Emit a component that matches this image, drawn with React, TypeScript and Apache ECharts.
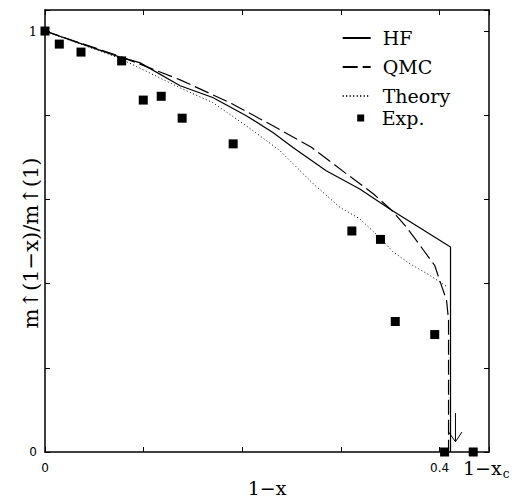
import React, { useEffect, useRef } from 'react';
import * as echarts from 'echarts';

const SERIF = '"DejaVu Serif", "Liberation Serif", serif';
const SANS = '"DejaVu Sans", "Liberation Sans", sans-serif';

// x = 1 - x, y = m↑(1-x)/m↑(1)
const hfData: number[][] = [
  [0, 1], [0.029, 0.976], [0.076, 0.938], [0.096, 0.925], [0.137, 0.87],
  [0.17, 0.842], [0.204, 0.799], [0.231, 0.759], [0.251, 0.724], [0.285, 0.668],
  [0.319, 0.625], [0.351, 0.575], [0.411, 0.487], [0.411, 0],
];
const qmcData: number[][] = [
  [0, 1], [0.029, 0.977], [0.076, 0.94], [0.137, 0.884], [0.189, 0.828],
  [0.231, 0.775], [0.27, 0.724], [0.306, 0.66], [0.333, 0.613], [0.351, 0.575],
  [0.365, 0.538], [0.38, 0.491], [0.395, 0.443], [0.4, 0.408], [0.407, 0.36],
  [0.409, 0.313], [0.409, 0],
];
const theoryData: number[][] = [
  [0, 1], [0.029, 0.975], [0.076, 0.935], [0.137, 0.865], [0.17, 0.83],
  [0.204, 0.775], [0.238, 0.716], [0.272, 0.637], [0.299, 0.581], [0.319, 0.554],
  [0.339, 0.51], [0.353, 0.475], [0.37, 0.447], [0.387, 0.424], [0.408, 0.392],
];
const expData: number[][] = [
  [0, 1], [0.0145, 0.969], [0.0365, 0.95], [0.0777, 0.929], [0.0996, 0.836],
  [0.1178, 0.845], [0.139, 0.793], [0.1907, 0.732], [0.311, 0.525], [0.34, 0.505],
  [0.355, 0.31], [0.395, 0.279], [0.405, 0], [0.434, 0],
];
// arrow marking 1 - x_c
const arrowShaft: number[][] = [[0.416, 0.0924], [0.416, 0.0244]];
const arrowHead: number[][] = [[0.4091, 0.0474], [0.416, 0.0244], [0.4226, 0.0474]];

const X_MIN = 0, X_MAX = 0.45, X_STEP = 0.1;
const Y_MIN = 0, Y_MAX = 1.05, Y_STEP = 0.2;
const xTickLabels: Record<string, string> = { '0': '0', '0.4': '0.4' };
const yTickLabels: Record<string, string> = { '0': '{s|0}', '1': '{r|1}' };

const seriesNames = ['HF', 'QMC', 'Theory', 'Exp.'];
const legendCenters = [38, 67, 96, 118];

export default function App() {
  const ref = useRef<HTMLDivElement>(null);
  useEffect(() => {
    const chart = echarts.init(ref.current!, null, { renderer: 'svg' });
    const axisLine = { show: true, onZero: false, lineStyle: { color: '#000', width: 1.5 } };
    const tick = { show: true, inside: true, length: 5, lineStyle: { color: '#000', width: 1 } };
    const key = (v: number) => String(Math.round(v * 1000) / 1000);
    const lineLegend = (i: number) => ({
      data: [seriesNames[i]],
      left: 341.7,
      top: legendCenters[i] - 9.5,
      padding: 0,
      itemWidth: 28,
      itemHeight: 14,
      selectedMode: false,
      itemStyle: { opacity: 0 },
      textStyle: { fontFamily: SERIF, fontSize: 19, color: '#000', padding: [0, 0, 0, 7] },
    });
    chart.setOption({
      animation: false,
      backgroundColor: '#fff',
      grid: { left: 45, top: 10, right: 26, bottom: 48, containLabel: false, outerBoundsMode: 'none' },
      xAxis: [
        {
          type: 'value', min: X_MIN, max: X_MAX, interval: X_STEP, position: 'bottom',
          axisLine, axisTick: tick, splitLine: { show: false },
          axisLabel: {
            formatter: (v: number) => xTickLabels[key(v)] || '',
            fontFamily: SANS, fontSize: 12, color: '#000', margin: 10,
          },
          name: '1−x', nameLocation: 'middle', nameGap: 26, nameMoveOverlap: false,
          nameTextStyle: { fontFamily: SERIF, fontSize: 19, color: '#000' },
        },
        {
          type: 'value', min: X_MIN, max: X_MAX, interval: X_STEP, position: 'top',
          axisLine, axisTick: tick, splitLine: { show: false }, axisLabel: { show: false },
        },
      ],
      yAxis: [
        {
          type: 'value', min: Y_MIN, max: Y_MAX, interval: Y_STEP, position: 'left',
          axisLine, axisTick: tick, splitLine: { show: false },
          axisLabel: {
            formatter: (v: number) => yTickLabels[key(v)] || '',
            margin: 8,
            rich: {
              s: { fontFamily: SANS, fontSize: 12, color: '#000' },
              r: { fontFamily: SERIF, fontSize: 13, color: '#000' },
            },
          },
          name: 'm↑(1−x)/m↑(1)', nameLocation: 'middle', nameGap: 4, nameRotate: 90,
          nameMoveOverlap: false,
          nameTextStyle: { fontFamily: SERIF, fontSize: 21, color: '#000', padding: [0, 24, 0, 0] },
        },
        {
          type: 'value', min: Y_MIN, max: Y_MAX, interval: Y_STEP, position: 'right',
          axisLine, axisTick: tick, splitLine: { show: false }, axisLabel: { show: false },
        },
      ],
      legend: [
        lineLegend(0),
        lineLegend(1),
        lineLegend(2),
        {
          data: [seriesNames[3]],
          left: 357.2,
          top: legendCenters[3] - 9.5,
          padding: 0,
          itemWidth: 7,
          itemHeight: 7,
          selectedMode: false,
          textStyle: { fontFamily: SERIF, fontSize: 19, color: '#000', padding: [0, 0, 0, 12.5] },
        },
      ],
      series: [
        {
          name: 'HF', type: 'line', data: hfData, symbol: 'none', clip: false,
          lineStyle: { color: '#000', width: 1.2, type: 'solid' }, itemStyle: { color: '#000' },
        },
        {
          name: 'QMC', type: 'line', data: qmcData, symbol: 'none', clip: false,
          lineStyle: { color: '#000', width: 1.2, type: [15, 5] }, itemStyle: { color: '#000' },
        },
        {
          name: 'Theory', type: 'line', data: theoryData, symbol: 'none', clip: false,
          lineStyle: { color: '#000', width: 1, type: [1, 2.5] }, itemStyle: { color: '#000' },
        },
        {
          name: 'Exp.', type: 'scatter', data: expData, symbol: 'rect', symbolSize: 9, clip: false,
          itemStyle: { color: '#000', opacity: 1 },
        },
        {
          name: 'arrow', type: 'line', data: arrowShaft, symbol: 'none', clip: false, silent: true,
          lineStyle: { color: '#000', width: 1 },
        },
        {
          name: 'arrowHead', type: 'line', data: arrowHead, symbol: 'none', clip: false, silent: true,
          lineStyle: { color: '#000', width: 1 },
        },
      ],
      graphic: [
        {
          type: 'text', left: 463, top: 458,
          style: {
            text: '1−x{sub|c}',
            fontFamily: SERIF, fontSize: 19, fill: '#000',
            rich: { sub: { fontFamily: SERIF, fontSize: 12, fill: '#000', padding: [12, 0, 0, 1] } },
          },
        },
      ],
    });
    return () => chart.dispose();
  }, []);
  return <div ref={ref} style={{ position: 'fixed', left: 0, top: 0, width: 515, height: 500, background: '#fff' }} />;
}
